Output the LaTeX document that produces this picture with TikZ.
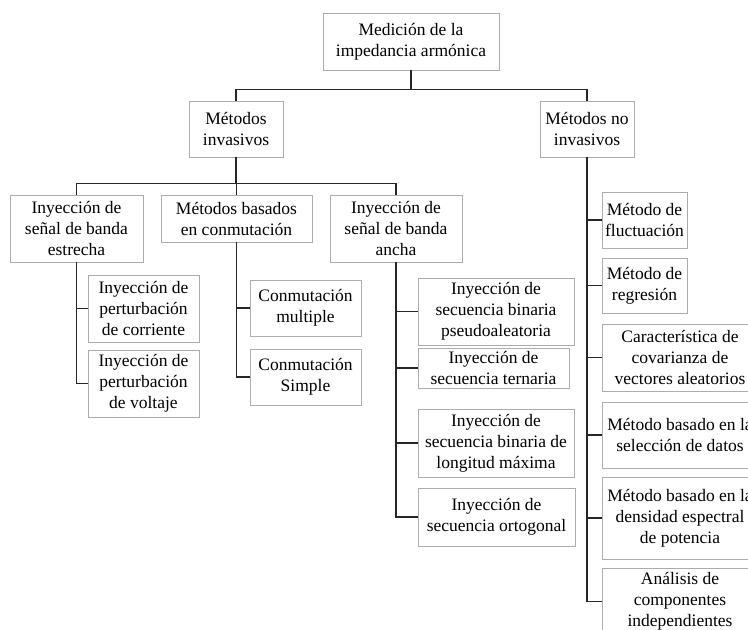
\documentclass[tikz,border=0pt]{standalone}
\usepackage{fontspec}
\setmainfont{Liberation Serif}

\begin{document}
\begin{tikzpicture}[x=1pt, y=-1pt,
    caja/.style={draw=gray!65, line width=0.9pt, align=center, inner sep=1pt,
                 font=\fontsize{17.5}{21}\selectfont},
    linea/.style={line width=1.5pt, black!85}]
      \useasboundingbox (0,0) rectangle (748,630);
      \clip (0,0) rectangle (748,630);

      % Root
      \node[caja, minimum width=176pt, minimum height=57pt] (raiz) at (411,41.5) {Medición de la\\impedancia armónica};

      % First level
      \node[caja, minimum width=94pt, minimum height=56pt] (inv) at (236,129) {Métodos\\invasivos};
      \node[caja, minimum width=94pt, minimum height=56pt] (noinv) at (587,129) {Métodos no\\invasivos};

      % Invasive methods
      \node[caja, minimum width=133pt, minimum height=67pt] (estrecha) at (76.5,228.5) {Inyección de\\señal de banda\\estrecha};
      \node[caja, minimum width=151pt, minimum height=47pt] (conm) at (236.5,218.5) {Métodos basados\\en conmutación};
      \node[caja, minimum width=132pt, minimum height=67pt] (ancha) at (396,228.5) {Inyección de\\señal de banda\\ancha};

      % Narrow band
      \node[caja, minimum width=111pt, minimum height=67pt] (corriente) at (143.5,308.5) {Inyección de\\perturbación\\de corriente};
      \node[caja, minimum width=111pt, minimum height=67pt] (voltaje) at (143.5,383.5) {Inyección de\\perturbación\\de voltaje};

      % Switching
      \node[caja, minimum width=111pt, minimum height=56pt] (multiple) at (305.5,308) {Conmutación\\multiple};
      \node[caja, minimum width=111pt, minimum height=56pt] (simple) at (305.5,377) {Conmutación\\Simple};

      % Wide band
      \node[caja, minimum width=156pt, minimum height=67pt] (pseudo) at (496,311.5) {Inyección de\\secuencia binaria\\pseudoaleatoria};
      \node[caja, minimum width=151pt, minimum height=40pt] (ternaria) at (493.5,368) {Inyección de\\secuencia ternaria};
      \node[caja, minimum width=156pt, minimum height=68pt] (maxima) at (496,443) {Inyección de\\secuencia binaria de\\longitud máxima};
      \node[caja, minimum width=157pt, minimum height=58pt] (ortogonal) at (496.5,517) {Inyección de\\secuencia ortogonal};

      % Non-invasive methods
      \node[caja, minimum width=85pt, minimum height=56pt] (fluct) at (644.5,220) {Método de\\fluctuación};
      \node[caja, minimum width=85pt, minimum height=55pt] (regr) at (644.5,285.5) {Método de\\regresión};
      \node[caja, minimum width=156pt, minimum height=67pt] (caract) at (680,357.5) {Característica de\\covarianza de\\vectores aleatorios};
      \node[caja, minimum width=156pt, minimum height=66pt] (selec) at (680,435) {Método basado en la\\selección de datos};
      \node[caja, minimum width=156pt, minimum height=82pt] (dens) at (680,518) {Método basado en la\\densidad espectral\\de potencia};
      \node[caja, minimum width=156pt, minimum height=67pt] (anal) at (680,601.5) {Análisis de\\componentes\\independientes};

      % Connections
      \draw[linea] (raiz.south) -- ++(0,19) -| (inv.north);
      \draw[linea] (raiz.south) -- ++(0,19) -| (noinv.north);
      \foreach \b in {estrecha,conm,ancha}
        \draw[linea] (inv.south) -- ++(0,26) -| (\b.north);

      \foreach \b in {corriente,voltaje}
        \draw[linea] (estrecha.south) |- (\b.west);
      \foreach \b in {multiple,simple}
        \draw[linea] (conm.south) |- (\b.west);
      \foreach \b in {pseudo,ternaria,maxima,ortogonal}
        \draw[linea] (ancha.south) |- (\b.west);
      \foreach \b in {fluct,regr,caract,selec,dens,anal}
        \draw[linea] (noinv.south) |- (\b.west);
\end{tikzpicture}
\end{document}
